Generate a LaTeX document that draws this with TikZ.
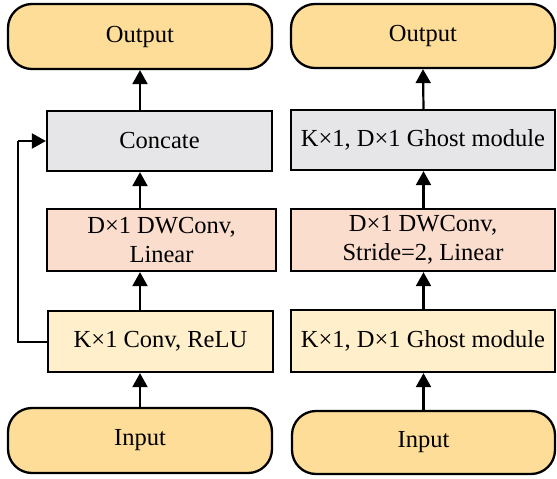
\documentclass[tikz,border=0pt]{standalone}
\usepackage{fontspec}
\setmainfont{Liberation Serif}
\usetikzlibrary{arrows.meta}
\definecolor{termfill}{HTML}{FDDD97}
\definecolor{grayfill}{HTML}{E6E6E8}
\definecolor{pinkfill}{HTML}{FADDCC}
\definecolor{yellowfill}{HTML}{FFEFCA}
\tikzset{
  box/.style={draw=black, line width=2.3pt, rectangle, inner sep=0pt, align=center,
    font=\fontsize{24.5}{29}\selectfont},
  term/.style={box, fill=termfill, rounded corners=24pt},
  arr/.style={line width=2.2pt, -{Triangle[length=14pt,width=15pt]}},
  fb/.style={line width=2pt},
}
\newcommand{\boxat}[7]{% name, x1, y1, x2, y2, style, text
  \node[#6, minimum width={(#4-#2)*1pt}, minimum height={(#5-#3)*1pt}] (#1) at ({(#2+#4)/2},{(#3+#5)/2}) {#7};}
\begin{document}
\begin{tikzpicture}[x=1pt,y=-1pt]
\useasboundingbox (0,0) rectangle (557,479);
% left column
\boxat{outL}{8}{4}{272}{69}{term}{Output}
\boxat{catL}{47}{111}{272}{171}{box,fill=grayfill}{Concate}
\boxat{dwL}{47}{209}{276}{271}{box,fill=pinkfill}{D×1 DWConv,\\Linear}
\boxat{convL}{48}{311}{273}{372}{box,fill=yellowfill}{K×1 Conv, ReLU}
\boxat{inL}{8}{408}{272}{473}{term}{Input}
% right column
\boxat{outR}{291}{4}{555}{68}{term}{Output}
\boxat{ghR}{291}{110}{555}{170}{box,fill=grayfill}{K×1, D×1 Ghost module}
\boxat{dwR}{291}{209}{555}{271}{box,fill=pinkfill}{D×1 DWConv,\\Stride=2, Linear}
\boxat{gyR}{291}{310}{555}{372}{box,fill=yellowfill}{K×1, D×1 Ghost module}
\boxat{inR}{292}{411}{555}{474}{term}{Input}
% left arrows
\draw[arr] (inL.north) -- (inL.north |- convL.south);
\draw[arr] (inL.north |- convL.north) -- (inL.north |- dwL.south);
\draw[arr] (inL.north |- dwL.north) -- (inL.north |- catL.south);
\draw[arr] (inL.north |- catL.north) -- (outL.south);
% feedback
\coordinate (fbx) at (18,0);
\draw[fb] (convL.west) -- (convL.west -| fbx) -- (catL.west -| fbx);
\draw[arr] (catL.west -| fbx) -- (catL.west);
% right arrows
\draw[arr] (inR.north) -- (inR.north |- gyR.south);
\draw[arr] (inR.north |- gyR.north) -- (inR.north |- dwR.south);
\draw[arr] (inR.north |- dwR.north) -- (inR.north |- ghR.south);
\draw[arr] (inR.north |- ghR.north) -- (outR.south);
\end{tikzpicture}
\end{document}
